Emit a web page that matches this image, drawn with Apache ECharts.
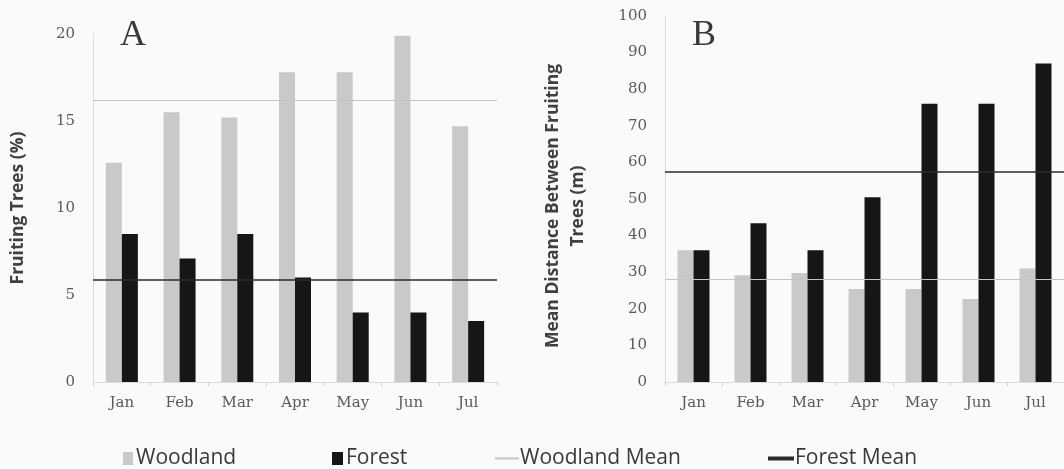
<!DOCTYPE html>
<html>
<head>
<meta charset="utf-8">
<script src="https://cdn.jsdelivr.net/npm/echarts@6/dist/echarts.min.js"></script>
<style>
  html, body { margin: 0; padding: 0; background: #fafafa; }
  #chart { width: 1064px; height: 469px; }
</style>
</head>
<body>
<div id="chart"></div>
<script>
// Months sampled
const months = ['Jan', 'Feb', 'Mar', 'Apr', 'May', 'Jun', 'Jul'];

// Panel A: percentage of trees fruiting
const woodlandPct = [12.6, 15.5, 15.2, 17.8, 17.8, 19.9, 14.7];
const forestPct = [8.5, 7.1, 8.5, 6.0, 4.0, 4.0, 3.5];
const woodlandPctMean = 16.2;
const forestPctMean = 5.9;

// Panel B: mean distance between fruiting trees (m)
const woodlandDist = [36, 29.2, 29.8, 25.4, 25.4, 22.7, 31];
const forestDist = [36, 43.4, 36, 50.5, 76, 76, 87];
const woodlandDistMean = 28.2;
const forestDistMean = 57.5;

const WOOD = '#c9c9c9';
const FOREST = '#161616';
const WOOD_LINE = '#c4c4c4';
const FOREST_LINE = '#2b2b2b';
const tickFont = { fontFamily: 'DejaVu Serif', fontSize: 15, color: '#5a5a5a' };

function barSeries(name, data, idx, color) {
  return {
    name, type: 'bar', data, xAxisIndex: idx, yAxisIndex: idx,
    barWidth: 16, barGap: '0%',
    itemStyle: { color }, z: 2
  };
}
function meanSeries(name, value, idx, color, width) {
  return {
    name, type: 'line', data: [], xAxisIndex: idx, yAxisIndex: idx,
    itemStyle: { color }, lineStyle: { color, width },
    markLine: {
      silent: true, symbol: 'none', label: { show: false },
      lineStyle: { color, width, type: 'solid' },
      data: [{ yAxis: value }]
    },
    z: 5
  };
}
function xAxis(idx) {
  return {
    type: 'category', data: months, gridIndex: idx,
    axisLine: { lineStyle: { color: '#dcdcdc', width: 1 } },
    axisTick: { show: true, length: 4, lineStyle: { color: '#d0d0d0' } },
    axisLabel: Object.assign({ margin: 14 }, tickFont)
  };
}
function yAxis(idx, max, interval) {
  return {
    type: 'value', gridIndex: idx, min: 0, max, interval,
    axisLine: { show: true, lineStyle: { color: '#dedede' } },
    axisTick: { show: false },
    splitLine: { show: false },
    axisLabel: Object.assign({ margin: 18 }, tickFont)
  };
}
function legendItem(name, left, icon) {
  return {
    data: [{ name, itemStyle: { color: icon.color } }],
    left, top: 443, icon: 'rect',
    itemWidth: icon.w, itemHeight: icon.h, itemGap: 0,
    selectedMode: false,
    textStyle: { fontFamily: 'Open Sans', fontSize: 21, color: '#3a3a3a', padding: [0, 0, 0, icon.pad] }
  };
}

const chart = echarts.init(document.getElementById('chart'), null, { renderer: 'canvas' });
chart.setOption({
  backgroundColor: '#fafafa',
  animation: false,
  grid: [
    { left: 93, top: 34, width: 404, height: 348 },
    { left: 665, top: 16, width: 412, height: 366 }
  ],
  xAxis: [xAxis(0), xAxis(1)],
  yAxis: [yAxis(0, 20, 5), yAxis(1, 100, 10)],
  legend: [
    legendItem('Woodland', 118, { color: WOOD, w: 10, h: 13, pad: -2 }),
    legendItem('Forest', 327, { color: FOREST, w: 11, h: 13, pad: -2 }),
    legendItem('Woodland Mean', 490, { color: WOOD_LINE, w: 24, h: 2, pad: -4 }),
    legendItem('Forest Mean', 763, { color: FOREST_LINE, w: 26, h: 4, pad: -4 })
  ],
  graphic: [
    { type: 'text', left: 120, top: 18, style: { text: 'A', font: '36px "Liberation Serif"', fill: '#3a3a3a' } },
    { type: 'text', left: 692, top: 18, style: { text: 'B', font: '36px "Liberation Serif"', fill: '#3a3a3a' } },
    { type: 'text', x: 18, y: 208, rotation: Math.PI / 2,
      style: { text: 'Fruiting Trees (%)', font: 'bold 17.5px "Open Sans"', fill: '#404040', align: 'center', verticalAlign: 'middle' } },
    { type: 'text', x: 566, y: 206, rotation: Math.PI / 2,
      style: { text: 'Mean Distance Between Fruiting\nTrees (m)', font: 'bold 17.5px "Open Sans"', lineHeight: 25, fill: '#404040', align: 'center', verticalAlign: 'middle' } }
  ],
  series: [
    barSeries('Woodland', woodlandPct, 0, WOOD),
    barSeries('Forest', forestPct, 0, FOREST),
    meanSeries('Woodland Mean', woodlandPctMean, 0, WOOD_LINE, 1.2),
    meanSeries('Forest Mean', forestPctMean, 0, FOREST_LINE, 1.6),
    barSeries('Woodland', woodlandDist, 1, WOOD),
    barSeries('Forest', forestDist, 1, FOREST),
    meanSeries('Woodland Mean', woodlandDistMean, 1, WOOD_LINE, 1.2),
    meanSeries('Forest Mean', forestDistMean, 1, FOREST_LINE, 1.6)
  ]
});
</script>
</body>
</html>
